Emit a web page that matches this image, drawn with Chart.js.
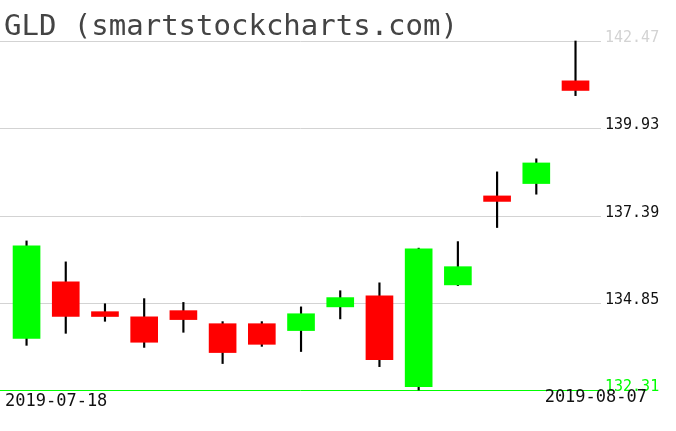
<!DOCTYPE html>
<html>
<head>
<meta charset="utf-8">
<script src="https://cdn.jsdelivr.net/npm/chart.js@4"></script>
<style>
html,body{margin:0;padding:0;background:#fff;}
#wrap{width:676px;height:431px;}
</style>
</head>
<body>
<div id="wrap"><canvas id="c" width="676" height="431"></canvas></div>
<script>
const titleText = "GLD (smartstockcharts.com)";
const dates = ["2019-07-18","2019-07-19","2019-07-22","2019-07-23","2019-07-24","2019-07-25","2019-07-26","2019-07-29","2019-07-30","2019-07-31","2019-08-01","2019-08-02","2019-08-05","2019-08-06","2019-08-07"];
const opens  = [133.81,135.46,134.59,134.44,134.62,134.24,134.24,134.04,134.73,135.05,132.41,135.37,137.96,138.32,141.31];
const highs  = [136.65,136.04,134.82,134.97,134.86,134.30,134.30,134.73,135.20,135.43,136.44,136.63,138.66,139.04,142.47];
const lows   = [133.61,133.96,134.31,133.55,133.99,133.08,133.58,133.43,134.38,132.99,132.31,135.35,137.04,138.01,140.88];
const closes = [136.51,134.45,134.45,133.70,134.36,133.40,133.64,134.53,135.00,133.19,136.42,135.90,137.80,138.92,141.03];
const yTicks = [132.31,134.85,137.39,139.93,142.47];

const idx = dates.map((d,i)=>i);
const bodyData = idx.map(i=>({x:i, y:[opens[i], closes[i]]}));
const wickData = idx.map(i=>({x:i, y:[lows[i], highs[i]]}));
const bodyColors = idx.map(i=> closes[i] >= opens[i] ? '#00ff00' : '#ff0000');

const overlay = {
  id:'overlay',
  beforeDatasetsDraw(chart){
    const ctx = chart.ctx, y = chart.scales.y, a = chart.chartArea;
    ctx.save();
    yTicks.forEach((v,k)=>{
      const py = Math.round(y.getPixelForValue(v)) + 0.5;
      ctx.beginPath();
      ctx.strokeStyle = k===0 ? '#00ff00' : '#d3d3d3';
      ctx.lineWidth = 1;
      ctx.moveTo(0, py); ctx.lineTo(a.right, py);
      ctx.stroke();
    });
    ctx.restore();
  },
  afterDraw(chart){
    const ctx = chart.ctx, y = chart.scales.y, a = chart.chartArea;
    ctx.save();
    ctx.textBaseline = 'alphabetic';
    ctx.font = '15px "DejaVu Sans Mono"';
    ctx.textAlign = 'left';
    yTicks.forEach((v,k)=>{
      const py = y.getPixelForValue(v);
      ctx.fillStyle = k===0 ? '#00ff00' : (k===yTicks.length-1 ? '#d3d3d3' : '#111');
      ctx.fillText(v.toFixed(2), a.right + 4, py + 1);
    });
    ctx.font = '17px "DejaVu Sans Mono"';
    ctx.fillStyle = '#111';
    ctx.textAlign = 'left';
    ctx.fillText(dates[0], 5, 406);
    ctx.textAlign = 'right';
    ctx.fillText(dates[dates.length-1], 647, 402);
    ctx.font = '29px "DejaVu Sans Mono"';
    ctx.fillStyle = '#444';
    ctx.textAlign = 'left';
    ctx.fillText(titleText, 4, 35);
    ctx.restore();
  }
};

new Chart(document.getElementById('c'), {
  type:'bar',
  data:{
    datasets:[
      {label:'body', data: bodyData, backgroundColor: bodyColors, borderWidth:0, barThickness:27, order:0, grouped:false},
      {label:'wick', data: wickData, backgroundColor:'#000', borderWidth:0, barThickness:1.5, order:1, grouped:false}
    ]
  },
  options:{
    responsive:false,
    animation:false,
    events:[],
    layout:{padding:{left:0,right:75,top:41,bottom:41}},
    plugins:{legend:{display:false}, tooltip:{enabled:false}, title:{display:false}},
    scales:{
      x:{type:'linear', display:false, min:-0.677, max:14.65, offset:false},
      y:{type:'linear', display:false, min:132.31, max:142.47}
    },
    clip:false
  },
  plugins:[overlay]
});
</script>
</body>
</html>
